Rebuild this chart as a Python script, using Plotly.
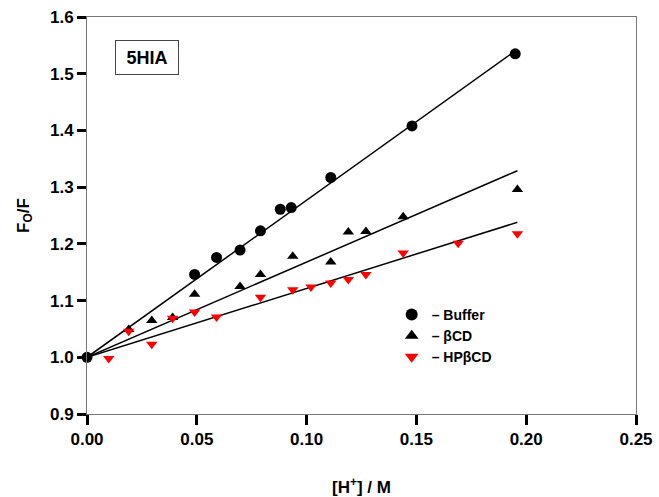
import plotly.graph_objects as go

# Data
buffer_x = [0.0, 0.049, 0.059, 0.0697, 0.079, 0.088, 0.093, 0.111, 0.148, 0.195]
buffer_y = [1.000, 1.146, 1.176, 1.189, 1.223, 1.261, 1.264, 1.317, 1.408, 1.535]

bcd_x = [0.019, 0.0295, 0.039, 0.049, 0.0697, 0.079, 0.0937, 0.111, 0.119, 0.127, 0.144, 0.196]
bcd_y = [1.049, 1.065, 1.070, 1.111, 1.125, 1.146, 1.178, 1.168, 1.221, 1.222, 1.248, 1.296]

hp_x = [0.0099, 0.019, 0.0295, 0.039, 0.049, 0.059, 0.079, 0.0937, 0.102, 0.111, 0.119, 0.127, 0.144, 0.169, 0.196]
hp_y = [0.998, 1.046, 1.023, 1.069, 1.080, 1.071, 1.106, 1.119, 1.124, 1.131, 1.137, 1.146, 1.184, 1.201, 1.218]

fit_x = [0.0, 0.196]
buffer_fit = [1.0, 1.543]
bcd_fit = [1.0, 1.329]
hp_fit = [1.0, 1.238]

x_ticks = [0.00, 0.05, 0.10, 0.15, 0.20, 0.25]
y_ticks = [0.9, 1.0, 1.1, 1.2, 1.3, 1.4, 1.5, 1.6]

FONT = "Liberation Sans, Arial, sans-serif"

fig = go.Figure()

for fy in [buffer_fit, bcd_fit, hp_fit]:
    fig.add_trace(go.Scatter(x=fit_x, y=fy, mode="lines",
                             line=dict(color="black", width=1.5),
                             showlegend=False, hoverinfo="skip"))

fig.add_trace(go.Scatter(x=buffer_x, y=buffer_y, mode="markers", name="\u2013 Buffer",
                         marker=dict(symbol="circle", size=11, color="black")))
fig.add_trace(go.Scatter(x=bcd_x, y=bcd_y, mode="markers", name="\u2013 \u03b2CD",
                         marker=dict(symbol="triangle-up", size=10, color="black")))
fig.add_trace(go.Scatter(x=hp_x, y=hp_y, mode="markers", name="\u2013 HP\u03b2CD",
                         marker=dict(symbol="triangle-down", size=10, color="#ff0000")))

fig.update_traces(cliponaxis=False)

axis_common = dict(
    showline=True, linecolor="#777777", linewidth=1, mirror=True,
    ticks="outside", tickcolor="black", tickwidth=3,
    showgrid=False, zeroline=False, automargin=False,
    tickfont=dict(family=FONT, size=17, color="black", weight="bold"),
)

fig.update_xaxes(range=[0, 0.25], tickvals=x_ticks,
                 ticktext=[f"{v:.2f}" for v in x_ticks], ticklen=10,
                 title=dict(text="[H<sup>+</sup>] / M",
                            font=dict(family=FONT, size=17, color="black", weight="bold"),
                            standoff=32),
                 **axis_common)
fig.update_yaxes(range=[0.9, 1.6], tickvals=y_ticks,
                 ticktext=[f"{v:.1f}" for v in y_ticks], ticklen=9,
                 title=dict(text="F<sub>O</sub>/F",
                            font=dict(family=FONT, size=17, color="black", weight="bold"),
                            standoff=16),
                 **axis_common)

fig.add_annotation(xref="paper", yref="paper", x=(146.7 - 87) / 549, y=(414 - 57.3) / 397,
                   text="5HIA", showarrow=False, xanchor="center", yanchor="middle",
                   font=dict(family=FONT, size=18, color="black", weight="bold"),
                   bordercolor="#444444", borderwidth=1, borderpad=5, width=52, height=23)

fig.update_layout(
    width=659, height=497,
    margin=dict(l=87, r=23, t=17, b=83),
    paper_bgcolor="white", plot_bgcolor="white",
    showlegend=True,
    legend=dict(x=0.555, y=0.29, xanchor="left", yanchor="top",
                bgcolor="rgba(0,0,0,0)", borderwidth=0,
                font=dict(family=FONT, size=14, color="black", weight="bold"),
                tracegroupgap=0, itemsizing="constant"),
)

fig.write_html("out.html", config={"displayModeBar": False},
               post_script="document.body.style.margin='0';")
